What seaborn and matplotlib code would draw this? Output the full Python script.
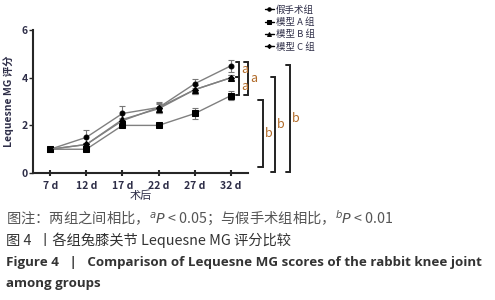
import matplotlib
matplotlib.use("Agg")
import matplotlib.pyplot as plt
import seaborn as sns
import numpy as np
import pandas as pd

days = ["7 d", "12 d", "17 d", "22 d", "27 d", "32 d"]
groups = ["假手术组", "模型 A 组", "模型 B 组", "模型 C 组"]
sham = [1.0, 1.5, 2.5, 2.75, 3.75, 4.5]
model_a = [1.0, 1.0, 2.0, 2.0, 2.5, 3.25]
model_b = [1.0, 1.2, 2.25, 2.7, 3.5, 4.0]
model_c = [1.0, 1.2, 2.2, 2.75, 3.5, 4.0]
sham_err = [0.0, 0.3, 0.3, 0.25, 0.2, 0.25]
model_a_err = [0.0, 0.05, 0.05, 0.05, 0.25, 0.2]
model_b_err = [0.0, 0.05, 0.05, 0.2, 0.2, 0.1]
model_c_err = [0.0, 0.05, 0.05, 0.2, 0.2, 0.1]

sns.set_style("ticks")
plt.rcParams["font.family"] = ["Noto Sans CJK SC", "DejaVu Sans"]
plt.rcParams["mathtext.fontset"] = "dejavusans"

fig = plt.figure(figsize=(4.95, 3.0), dpi=100)
ax = fig.add_axes([0.067, 0.423, 0.434, 0.477])

series = [sham, model_a, model_b, model_c]
errs = [sham_err, model_a_err, model_b_err, model_c_err]
markers = ["o", "s", "^", "D"]
msizes = [3.5, 5, 4, 3]
pos = np.arange(len(days))

for name, vals, err, mk, ms in zip(groups, series, errs, markers, msizes):
    df = pd.DataFrame({"day": pos, "score": vals})
    ax.errorbar(pos, vals, yerr=err, fmt="none", ecolor="#777777",
                elinewidth=0.8, capsize=2, capthick=0.8, zorder=2)
    sns.lineplot(data=df, x="day", y="score", ax=ax, color="#808080",
                 linewidth=1, marker=mk, markersize=ms,
                 markerfacecolor="black", markeredgecolor="black",
                 label=name, zorder=3)

ax.set_xlim(-0.47, 5.47)
ax.set_ylim(0, 6)
ax.set_xticks(pos)
ax.set_xticklabels(days)
ax.set_yticks([0, 2, 4, 6])
txt_col = "#2e2e48"
ax.tick_params(axis="x", direction="inout", length=5, width=1.5,
               labelsize=7.5, labelcolor=txt_col, pad=3)
ax.tick_params(axis="y", direction="out", length=3, width=1,
               labelsize=7.5, labelcolor=txt_col, pad=1)
for lab in ax.get_xticklabels() + ax.get_yticklabels():
    lab.set_fontweight("bold")
sns.despine(ax=ax)
ax.spines["left"].set_linewidth(1.5)
ax.spines["bottom"].set_linewidth(1.5)
ax.set_xlabel("术后", fontsize=8, color=txt_col, labelpad=0)
ax.set_ylabel("Lequesne MG 评分", fontsize=7.5, color=txt_col, labelpad=5,
              fontweight="bold")

leg = ax.legend(loc="upper left", bbox_to_anchor=(1.06, 1.20), frameon=False,
                fontsize=6.8, handlelength=1.0, handletextpad=0.2,
                labelspacing=0.3, borderaxespad=0, markerscale=0.7)
for t in leg.get_texts():
    t.set_color(txt_col)
for h in leg.get_lines():
    h.set_color("black")

# significance brackets
lt_col = "#b06a28"
def bracket(x, y0, y1, letter, w=0.12):
    ax.plot([x - w, x, x, x - w], [y0, y0, y1, y1], color="#222222",
            linewidth=1.4, clip_on=False, solid_joinstyle="miter")
    ax.text(x + 0.06, (y0 + y1) / 2, letter, fontsize=9, color=lt_col,
            va="center", ha="left", clip_on=False)

bracket(5.21, 4.66, 4.03, "a", w=0.08)
bracket(5.21, 4.03, 3.27, "a", w=0.08)
bracket(5.47, 4.66, 3.27, "a")
bracket(5.88, 3.06, 0.25, "b")
bracket(6.22, 4.03, 0.04, "b")
bracket(6.63, 4.53, 0.04, "b")

fig.text(0.012, 0.272,
         "图注：两组之间相比，$^{a}$$\\it{P}$ < 0.05；与假手术组相比，$^{b}$$\\it{P}$ < 0.01",
         fontsize=10.3, color="#555555", va="center")
fig.text(0.012, 0.198, "图 4  丨各组兔膝关节 Lequesne MG 评分比较",
         fontsize=10.3, color="#333333", va="center")
fig.text(0.012, 0.125,
         "Figure 4   |   Comparison of Lequesne MG scores of the rabbit knee joint",
         fontsize=9.6, color="#333333", va="center", fontweight="bold",
         family=["Open Sans", "DejaVu Sans"])
fig.text(0.012, 0.055, "among groups", fontsize=9.6, color="#333333",
         va="center", fontweight="bold", family=["Open Sans", "DejaVu Sans"])

fig.savefig("out.png", dpi=100)
